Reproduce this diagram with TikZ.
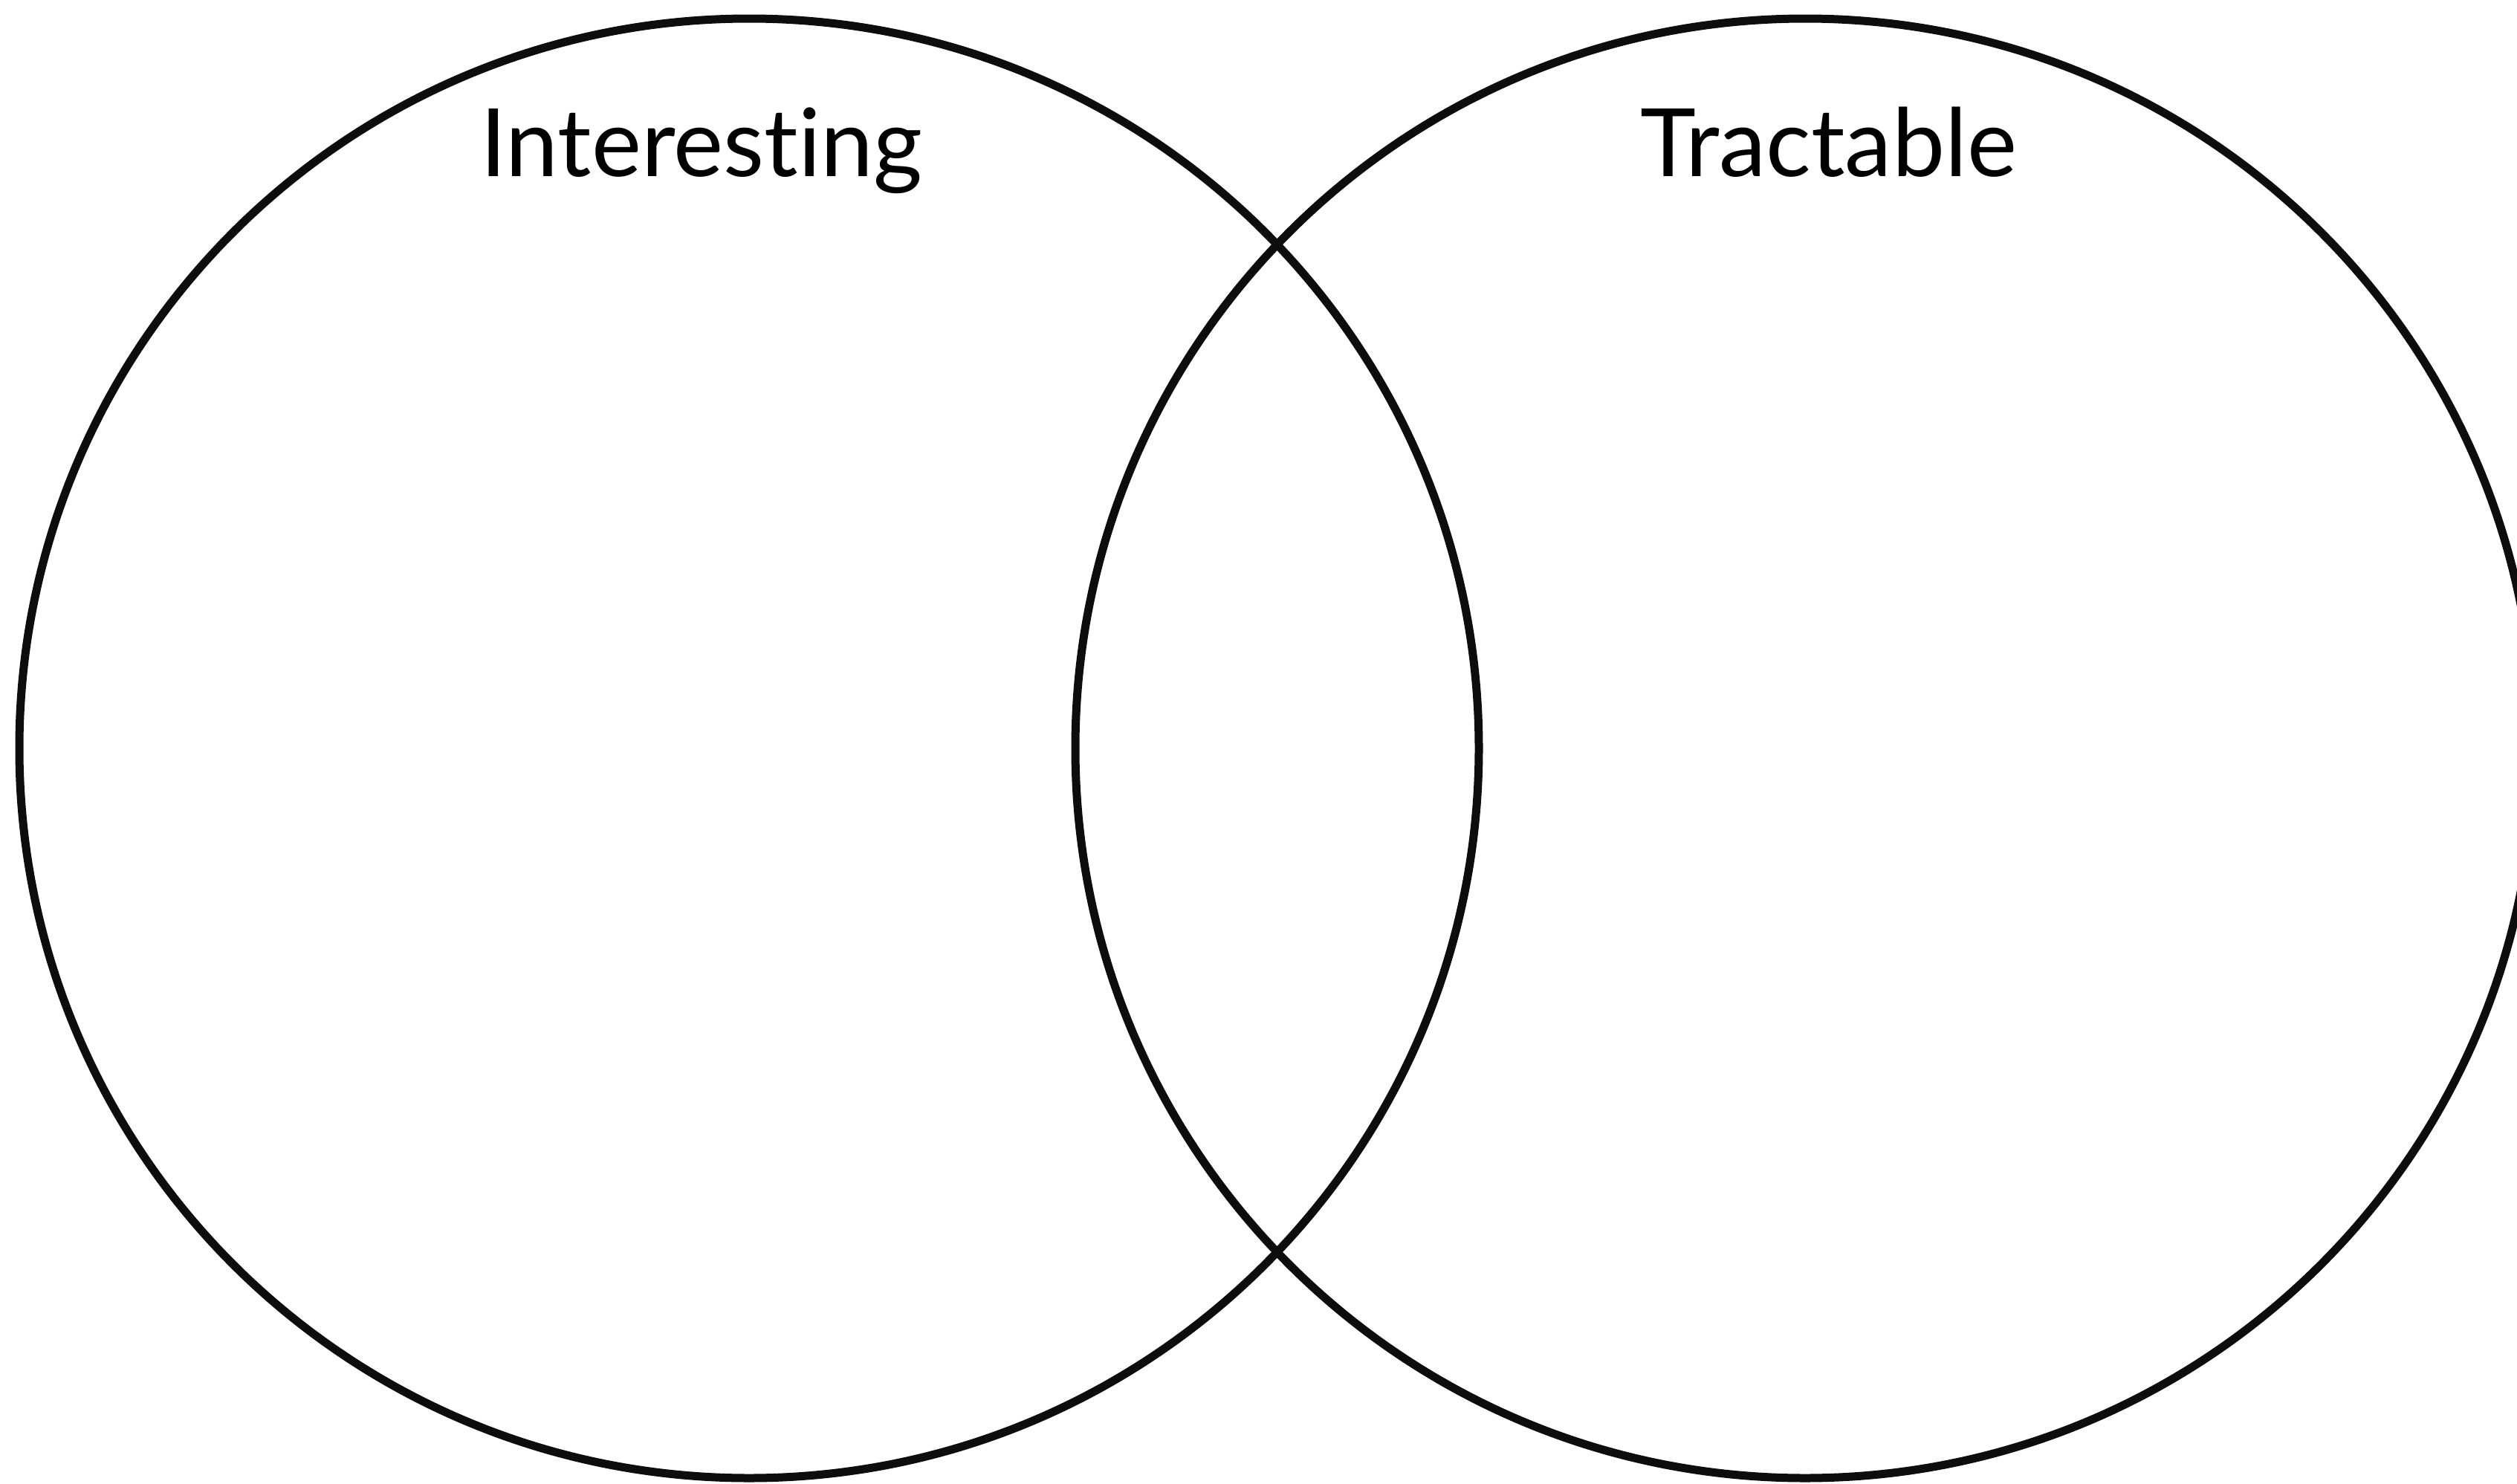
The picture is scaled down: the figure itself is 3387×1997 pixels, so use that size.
\documentclass[tikz,border=0pt]{standalone}
\usepackage{fontspec}
\setmainfont{Lato}[RawFeature={-liga,-dlig,-calt}]
\begin{document}
\begin{tikzpicture}[x=1pt,y=-1pt,
  venn/.style={draw=black!95,line width=11pt},
  lbl/.style={inner sep=0pt,font=\fontsize{127}{130}\selectfont}]
\useasboundingbox[fill=white] (0,0) rectangle (3387,1997);
\node[venn,circle,minimum size=1964pt,inner sep=0pt] (A) at (1008,1007) {};
\node[venn,circle,minimum size=1964pt,inner sep=0pt] (B) at (2429,1007) {};
\node[lbl,anchor=base west] (tA) at (646,237) {Interest\kern0pt ing};
\node[lbl,anchor=base west] (tB) at (2207,237) {Tractable};
\end{tikzpicture}
\end{document}
